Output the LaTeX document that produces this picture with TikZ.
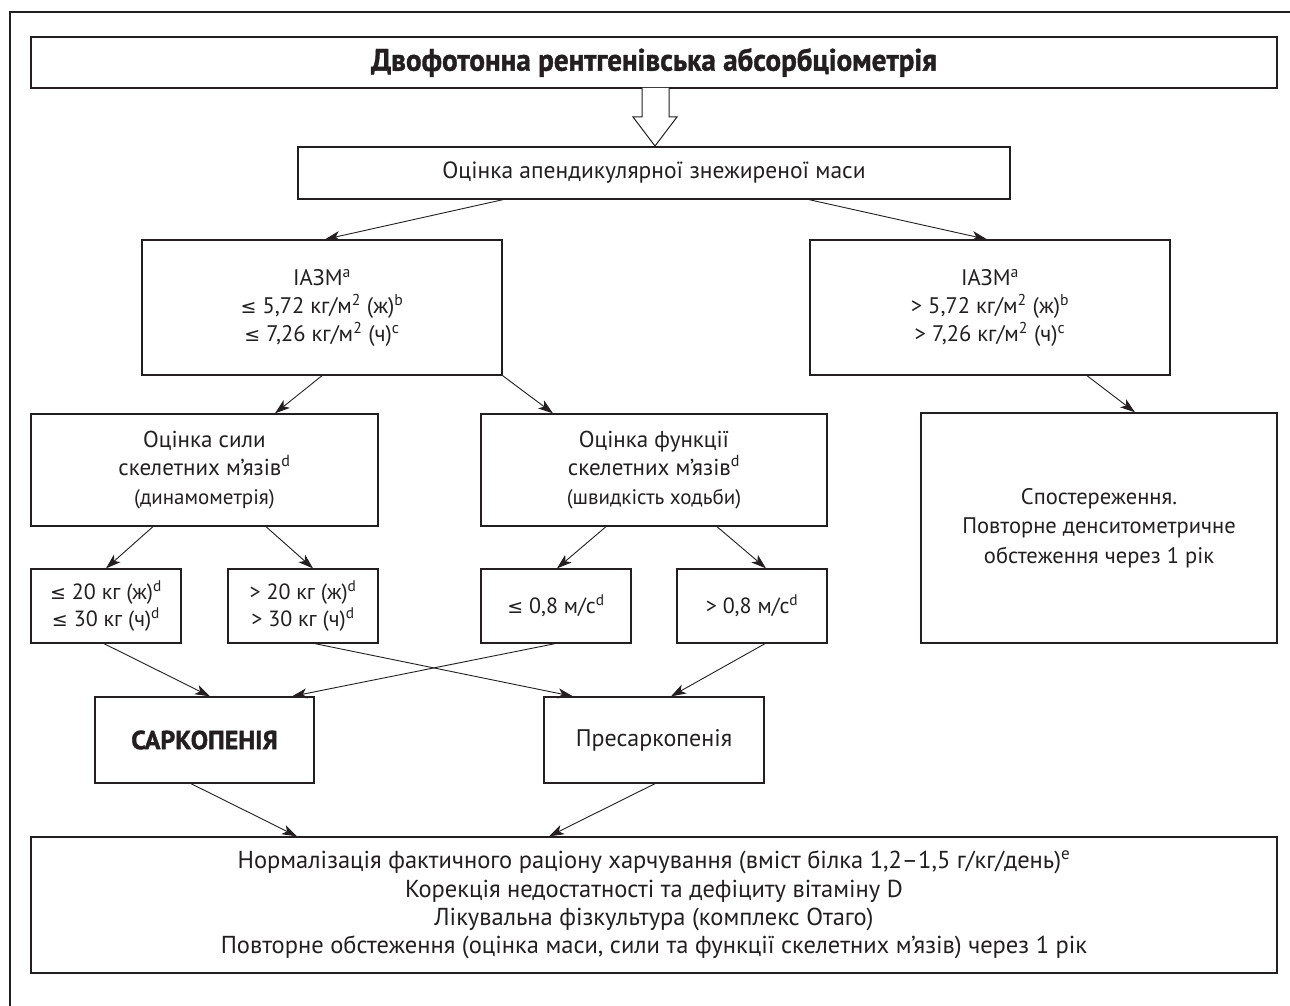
\documentclass[tikz,border=0pt]{standalone}
\usepackage{fontspec}
\setmainfont{PT Sans}
\newfontfamily\symf{DejaVu Sans}
\newfontfamily\titlef[FakeStretch=0.94,FakeBold=1.2]{PT Sans Bold}
\newfontfamily\heavyf[FakeBold=1.5]{PT Sans Bold}
\usetikzlibrary{arrows.meta}
\definecolor{ink}{HTML}{231F20}
\newcommand{\lesign}{{\symf\fontsize{19}{28}\selectfont ≤}}
\newcommand{\sps}[1]{\textsuperscript{#1}}
\begin{document}
\begin{tikzpicture}[x=1pt,y=-1pt,
  box/.style={draw=ink,line width=1.3pt,rectangle,align=center,inner sep=0pt,text=ink,
    font=\fontsize{22}{28}\selectfont},
  arr/.style={draw=ink,line width=0.9pt,-{Stealth[length=15pt,width=10pt,inset=4pt]}},
  frame/.style={draw=ink,line width=1.2pt}]
\useasboundingbox (0,0) rectangle (1290,1006);
\draw[frame] (10,1006) -- (10,12) -- (1290,12);

\node[box,minimum width=1246pt,minimum height=51pt,font=\titlef\fontsize{31}{34}\selectfont] (title) at (654,62.5) {Двофотонна рентгенівська абсорбціометрія};
\node[box,minimum width=712pt,minimum height=52pt,font=\fontsize{23.5}{28}\selectfont] (mass) at (654,173) {Оцінка апендикулярної знежиреної маси};
\node[box,minimum width=360pt,minimum height=135pt,font=\fontsize{22.5}{28}\selectfont] (iaL) at (322,307.5) {ІАЗМ\sps{a}\\ \lesign{} 5,72 кг/м\sps{2} (ж)\sps{b}\\ \lesign{} 7,26 кг/м\sps{2} (ч)\sps{c}};
\node[box,minimum width=360pt,minimum height=135pt,font=\fontsize{22.5}{28}\selectfont] (iaR) at (990,307.5) {ІАЗМ\sps{a}\\ > 5,72 кг/м\sps{2} (ж)\sps{b}\\ > 7,26 кг/м\sps{2} (ч)\sps{c}};
\node[box,minimum width=347pt,minimum height=112pt,font=\fontsize{23}{28.5}\selectfont] (sila) at (204.5,470) {Оцінка сили\\ скелетних м’язів\sps{d}\\ {\fontsize{21}{28.5}\selectfont(динамометрія)}};
\node[box,minimum width=346pt,minimum height=112pt,font=\fontsize{23}{28.5}\selectfont] (func) at (654,470) {Оцінка функції\\ скелетних м’язів\sps{d}\\ {\fontsize{21}{28.5}\selectfont(швидкість ходьби)}};
\node[box,minimum width=356pt,minimum height=230pt,font=\fontsize{22.5}{29.5}\selectfont] (obs) at (1099,528) {Спостереження.\\ Повторне денситометричне\\ обстеження через 1 рік};
\node[box,minimum width=150pt,minimum height=74pt,font=\fontsize{22}{27}\selectfont] (s1) at (106,606) {\lesign{} 20 кг (ж)\sps{d}\\ \lesign{} 30 кг (ч)\sps{d}};
\node[box,minimum width=150pt,minimum height=74pt,font=\fontsize{22}{27}\selectfont] (s2) at (303,606) {> 20 кг (ж)\sps{d}\\ > 30 кг (ч)\sps{d}};
\node[box,minimum width=150pt,minimum height=74pt,font=\fontsize{22}{27}\selectfont] (s3) at (556,606) {\lesign{} 0,8 м/с\sps{d}};
\node[box,minimum width=150pt,minimum height=74pt,font=\fontsize{22}{27}\selectfont] (s4) at (752,606) {> 0,8 м/с\sps{d}};
\node[box,minimum width=219pt,minimum height=86pt,font=\heavyf\fontsize{26}{28}\selectfont] (sark) at (204.5,740) {САРКОПЕНІЯ};
\node[box,minimum width=220pt,minimum height=86pt,font=\fontsize{24}{28}\selectfont] (pres) at (654,740) {Пресаркопенія};
\node[box,minimum width=1246pt,minimum height=136pt,font=\fontsize{24.5}{28.3}\selectfont] (bot) at (654,905) {Нормалізація фактичного раціону харчування (вміст білка 1,2–1,5 г/кг/день)\sps{e}\\ Корекція недостатності та дефіциту вітаміну D\\ Лікувальна фізкультура (комплекс Отаго)\\ Повторне обстеження (оцінка маси, сили та функції скелетних м’язів) через 1 рік};

% hollow arrow
\draw[draw=ink,line width=1pt,fill=white] (642,88) -- (642,117) -- (633,117) -- (655,146) -- (677,117) -- (669,117) -- (669,88);

\draw[arr] (mass.south -| 503,0) -- (iaL.north -| 325,0);
\draw[arr] (mass.south -| 809,0) -- (iaR.north -| 987,0);
\draw[arr] (iaL.south -| 322,0) -- (sila.north -| 275,0);
\draw[arr] (iaL.south east) -- (func.north -| 553,0);
\draw[arr] (iaR.south -| 1087,0) -- (obs.north -| 1135,0);
\draw[arr] (sila.south -| 153,0) -- (s1.north -| 106,0);
\draw[arr] (sila.south -| 266,0) -- (s2.north -| 313,0);
\draw[arr] (func.south -| 606,0) -- (s3.north -| 557,0);
\draw[arr] (func.south -| 717,0) -- (s4.north -| 766,0);
\draw[arr] (s1.south -| 104,0) -- (sark.north -| 210,0);
\draw[arr] (s3.south -| 555,0) -- (sark.north -| 292,0);
\draw[arr] (s2.south -| 315,0) -- (pres.north -| 573,0);
\draw[arr] (s4.south -| 765,0) -- (pres.north -| 671,0);
\draw[arr] (sark.south -| 191,0) -- (bot.north -| 297,0);
\draw[arr] (pres.south -| 655,0) -- (bot.north -| 549,0);
\end{tikzpicture}
\end{document}
